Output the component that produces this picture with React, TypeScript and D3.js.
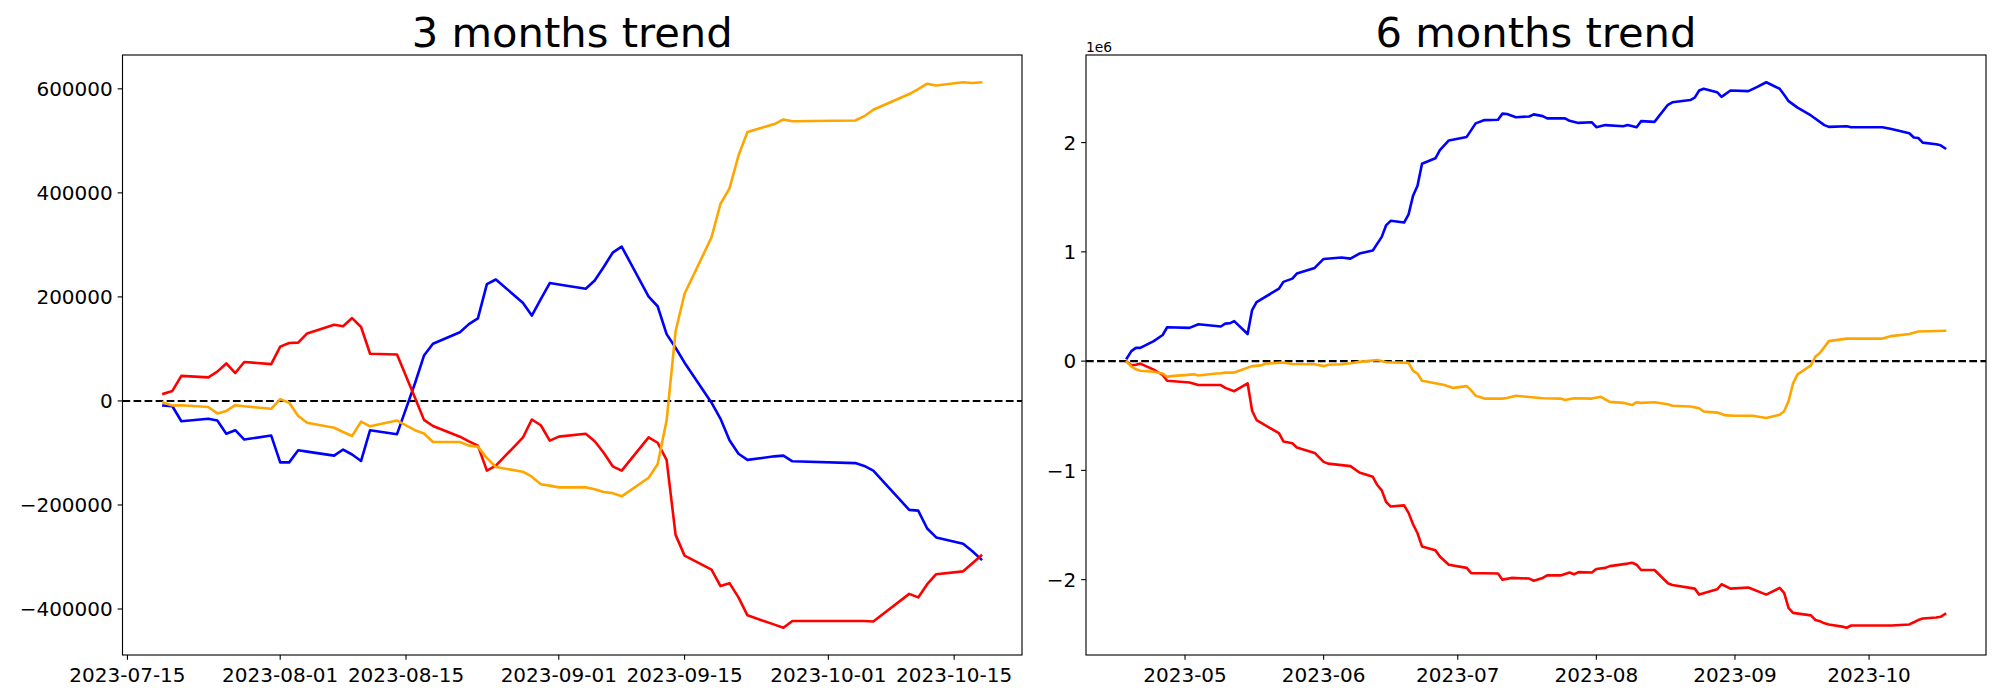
import React, { useRef, useEffect } from 'react';
import * as d3 from 'd3';

// 3 months: trading days and cumulative values per series
const THREE_M_DATES = [
  '2023-07-19', '2023-07-20', '2023-07-21', '2023-07-24', '2023-07-25', '2023-07-26', '2023-07-27', '2023-07-28', '2023-07-31',
  '2023-08-01', '2023-08-02', '2023-08-03', '2023-08-04', '2023-08-07', '2023-08-08', '2023-08-09', '2023-08-10', '2023-08-11',
  '2023-08-14', '2023-08-16', '2023-08-17', '2023-08-18', '2023-08-21', '2023-08-22', '2023-08-23', '2023-08-24', '2023-08-25',
  '2023-08-28', '2023-08-29', '2023-08-30', '2023-08-31',
  '2023-09-01', '2023-09-04', '2023-09-05', '2023-09-06', '2023-09-07', '2023-09-08', '2023-09-11', '2023-09-12', '2023-09-13',
  '2023-09-14', '2023-09-15', '2023-09-18', '2023-09-19', '2023-09-20', '2023-09-21', '2023-09-22', '2023-09-25', '2023-09-26',
  '2023-09-27',
  '2023-10-04', '2023-10-05', '2023-10-06', '2023-10-10', '2023-10-11', '2023-10-12', '2023-10-13', '2023-10-16', '2023-10-17',
  '2023-10-18',
];

const THREE_M_BLUE = [
  -8900, -10300, -39100, -34300, -37800, -63200, -56300, -74200, -66600,
  -118100, -118100, -94800, -97500, -105100, -93400, -103000, -115400, -56300, -63900, 34000, 87200, 109900, 131900, 147700,
  158700, 224600, 233500, 188900, 164100, 195700, 226600,
  223900, 215700, 231500, 257600, 285000, 296700, 200500, 182000, 128400, 102300, 73500, -3400, -34300, -75500, -101600,
  -113300, -106500, -105100, -116100,
  -119500, -125000, -133900, -209500, -210800, -245200, -262400, -274700, -288500, -304300,
];

const THREE_M_RED = [
  13700, 19200, 48100, 45300, 56300, 72100, 53600, 74900, 70700,
  104400, 111300, 112000, 129800, 146300, 143500, 159300, 142200, 90700, 89300, 6000, -36400, -48100, -68700, -77600,
  -85900, -133900, -124300, -70700, -35700, -46700, -76200,
  -68700, -63200, -77600, -99600, -125700, -133900, -70100, -80400, -113300, -257500, -297400, -324200, -355800, -350300,
  -377700, -412100, -430000, -436000, -423000,
  -423000, -423000, -424000, -370900, -377700, -352300, -333100, -327600, -312500, -297400,
];

const THREE_M_ORANGE = [
  -3400, -8900, -8200, -11700, -24000, -19200, -8200, -10300, -15100,
  3400, -3400, -28800, -41900, -51500, -59800, -67300, -39800, -48800, -37800, -56300, -62500, -79000, -79000, -85900,
  -87900, -110000, -127100, -136000, -145600, -160000, -162800,
  -166200, -166200, -169600, -175100, -177200, -183400, -147700, -121600, -37800, 133900, 206000, 314600, 379100, 408600,
  471800, 517200, 532300, 541200, 537800,
  539100, 547400, 559700, 590000, 599600, 609900, 606400, 612600, 611300, 612600,
];

// 6 months: [MM-DD of 2023, value in millions]
const SIX_M_BLUE: [string, number][] = [
  ['04-18', 0.026], ['04-19', 0.092], ['04-20', 0.121], ['04-21', 0.121], ['04-24', 0.183], ['04-26', 0.239],
  ['04-27', 0.310], ['05-02', 0.304], ['05-04', 0.337], ['05-09', 0.317], ['05-10', 0.343], ['05-11', 0.346],
  ['05-12', 0.366], ['05-15', 0.248], ['05-16', 0.467], ['05-17', 0.539], ['05-22', 0.663], ['05-23', 0.725],
  ['05-25', 0.755], ['05-26', 0.801], ['05-30', 0.853], ['06-01', 0.935], ['06-05', 0.948], ['06-07', 0.938],
  ['06-09', 0.984], ['06-12', 1.013], ['06-14', 1.137], ['06-15', 1.245], ['06-16', 1.284], ['06-19', 1.268],
  ['06-20', 1.343], ['06-21', 1.513], ['06-22', 1.605], ['06-23', 1.807], ['06-26', 1.856], ['06-27', 1.931],
  ['06-29', 2.020], ['07-03', 2.052], ['07-05', 2.176], ['07-07', 2.206], ['07-10', 2.209], ['07-11', 2.265],
  ['07-12', 2.261], ['07-14', 2.232], ['07-17', 2.239], ['07-18', 2.258], ['07-20', 2.242], ['07-21', 2.222],
  ['07-25', 2.222], ['07-26', 2.199], ['07-28', 2.180], ['07-31', 2.186], ['08-01', 2.141], ['08-03', 2.160],
  ['08-07', 2.150], ['08-08', 2.160], ['08-10', 2.141], ['08-11', 2.196], ['08-14', 2.190], ['08-17', 2.346],
  ['08-18', 2.369], ['08-22', 2.389], ['08-23', 2.412], ['08-24', 2.477], ['08-25', 2.493], ['08-28', 2.461],
  ['08-29', 2.418], ['08-31', 2.477], ['09-04', 2.471], ['09-06', 2.510], ['09-08', 2.552], ['09-11', 2.493],
  ['09-12', 2.438], ['09-13', 2.379], ['09-15', 2.320], ['09-18', 2.248], ['09-21', 2.160], ['09-22', 2.144],
  ['09-26', 2.150], ['09-27', 2.141], ['10-04', 2.141], ['10-06', 2.124], ['10-10', 2.085], ['10-11', 2.046],
  ['10-12', 2.042], ['10-13', 2.000], ['10-16', 1.985], ['10-17', 1.975], ['10-18', 1.948],
];

const SIX_M_RED: [string, number][] = [
  ['04-18', -0.007], ['04-19', -0.039], ['04-20', -0.033], ['04-21', -0.023], ['04-24', -0.078], ['04-26', -0.127],
  ['04-27', -0.180], ['05-02', -0.196], ['05-04', -0.219], ['05-09', -0.219], ['05-10', -0.245], ['05-12', -0.275],
  ['05-15', -0.203], ['05-16', -0.454], ['05-17', -0.539], ['05-22', -0.660], ['05-23', -0.735], ['05-25', -0.752],
  ['05-26', -0.791], ['05-30', -0.840], ['06-01', -0.922], ['06-02', -0.938], ['06-07', -0.961], ['06-09', -1.020],
  ['06-12', -1.059], ['06-13', -1.134], ['06-14', -1.183], ['06-15', -1.291], ['06-16', -1.330], ['06-19', -1.320],
  ['06-20', -1.389], ['06-21', -1.493], ['06-22', -1.575], ['06-23', -1.696], ['06-26', -1.732], ['06-27', -1.788],
  ['06-29', -1.863], ['07-03', -1.892], ['07-04', -1.941], ['07-07', -1.941], ['07-10', -1.944], ['07-11', -2.000],
  ['07-13', -1.984], ['07-17', -1.990], ['07-18', -2.010], ['07-20', -1.984], ['07-21', -1.961], ['07-24', -1.961],
  ['07-26', -1.935], ['07-27', -1.951], ['07-28', -1.931], ['07-31', -1.935], ['08-01', -1.902], ['08-03', -1.892],
  ['08-04', -1.876], ['08-08', -1.853], ['08-09', -1.846], ['08-10', -1.863], ['08-11', -1.912], ['08-14', -1.912],
  ['08-17', -2.033], ['08-18', -2.049], ['08-23', -2.082], ['08-24', -2.137], ['08-28', -2.088], ['08-29', -2.042],
  ['08-31', -2.082], ['09-04', -2.072], ['09-08', -2.137], ['09-11', -2.075], ['09-12', -2.121], ['09-13', -2.261],
  ['09-14', -2.304], ['09-18', -2.327], ['09-19', -2.369], ['09-20', -2.380], ['09-21', -2.400], ['09-22', -2.410],
  ['09-25', -2.430], ['09-26', -2.440], ['09-27', -2.420], ['10-04', -2.420], ['10-05', -2.420], ['10-06', -2.420],
  ['10-10', -2.410], ['10-11', -2.390], ['10-12', -2.370], ['10-13', -2.356], ['10-16', -2.346], ['10-17', -2.340],
  ['10-18', -2.314],
];

const SIX_M_ORANGE: [string, number][] = [
  ['04-18', -0.007], ['04-19', -0.049], ['04-20', -0.075], ['04-21', -0.088], ['04-24', -0.098], ['04-26', -0.114],
  ['04-27', -0.144], ['04-28', -0.137], ['05-03', -0.121], ['05-04', -0.131], ['05-08', -0.114], ['05-09', -0.111],
  ['05-10', -0.105], ['05-12', -0.105], ['05-16', -0.046], ['05-18', -0.039], ['05-19', -0.023], ['05-23', -0.013],
  ['05-25', -0.026], ['05-30', -0.029], ['06-01', -0.046], ['06-02', -0.033], ['06-05', -0.029], ['06-07', -0.020],
  ['06-09', -0.007], ['06-13', 0.010], ['06-15', -0.010], ['06-20', -0.016], ['06-21', -0.090], ['06-22', -0.114],
  ['06-23', -0.180], ['06-26', -0.203], ['06-28', -0.219], ['06-30', -0.245], ['07-03', -0.229], ['07-04', -0.268],
  ['07-05', -0.317], ['07-07', -0.343], ['07-11', -0.343], ['07-12', -0.337], ['07-14', -0.317], ['07-20', -0.340],
  ['07-24', -0.343], ['07-25', -0.356], ['07-27', -0.340], ['07-31', -0.343], ['08-02', -0.327], ['08-04', -0.373],
  ['08-07', -0.382], ['08-09', -0.402], ['08-10', -0.376], ['08-11', -0.382], ['08-14', -0.376], ['08-17', -0.395],
  ['08-18', -0.408], ['08-22', -0.415], ['08-24', -0.431], ['08-25', -0.461], ['08-28', -0.471], ['08-30', -0.497],
  ['09-01', -0.500], ['09-05', -0.500], ['09-08', -0.520], ['09-11', -0.490], ['09-12', -0.458], ['09-13', -0.366],
  ['09-14', -0.203], ['09-15', -0.121], ['09-18', -0.039], ['09-19', 0.042], ['09-20', 0.075], ['09-22', 0.183],
  ['09-26', 0.206], ['10-04', 0.206], ['10-06', 0.229], ['10-10', 0.248], ['10-12', 0.271], ['10-18', 0.278],
];

const THREE_M_XTICKS = ['2023-07-15', '2023-08-01', '2023-08-15', '2023-09-01', '2023-09-15', '2023-10-01', '2023-10-15'];
const THREE_M_YTICKS = [-400000, -200000, 0, 200000, 400000, 600000];
const SIX_M_XTICKS = ['2023-05-01', '2023-06-01', '2023-07-01', '2023-08-01', '2023-09-01', '2023-10-01'];
const SIX_M_YTICKS = [-2, -1, 0, 1, 2];

const TITLES = ['3 months trend', '6 months trend'];
const COLORS = { blue: '#0000ff', red: '#ff0000', orange: '#ffa500' };

const W = 2000;
const H = 700;
const FONT = 'DejaVu Sans';
const parseDate = d3.timeParse('%Y-%m-%d');

type Pt = [Date, number];
interface Panel {
  title: string;
  x0: number;
  x1: number;
  series: { color: string; pts: Pt[] }[];
  xTicks: Date[];
  xFormat: (d: Date) => string;
  yTicks: number[];
  offsetText: string | null;
}

const threeM = (vals: number[]): Pt[] => THREE_M_DATES.map((d, i) => [parseDate(d)!, vals[i]]);
const sixM = (rows: [string, number][]): Pt[] => rows.map(([d, v]) => [parseDate('2023-' + d)!, v]);

const PANELS: Panel[] = [
  {
    title: TITLES[0],
    x0: 122.5,
    x1: 1022,
    series: [
      { color: COLORS.blue, pts: threeM(THREE_M_BLUE) },
      { color: COLORS.red, pts: threeM(THREE_M_RED) },
      { color: COLORS.orange, pts: threeM(THREE_M_ORANGE) },
    ],
    xTicks: THREE_M_XTICKS.map((d) => parseDate(d)!),
    xFormat: d3.timeFormat('%Y-%m-%d'),
    yTicks: THREE_M_YTICKS,
    offsetText: null,
  },
  {
    title: TITLES[1],
    x0: 1086,
    x1: 1986,
    series: [
      { color: COLORS.blue, pts: sixM(SIX_M_BLUE) },
      { color: COLORS.red, pts: sixM(SIX_M_RED) },
      { color: COLORS.orange, pts: sixM(SIX_M_ORANGE) },
    ],
    xTicks: SIX_M_XTICKS.map((d) => parseDate(d)!),
    xFormat: d3.timeFormat('%Y-%m'),
    yTicks: SIX_M_YTICKS,
    offsetText: '1e6',
  },
];

const TOP = 55;
const BOTTOM = 655;
const PT = 100 / 72;
const LINE_W = 2.6;

function drawPanel(svg: d3.Selection<SVGSVGElement, unknown, null, undefined>, p: Panel) {
  const all = p.series.flatMap((s) => s.pts);
  const [tMin, tMax] = d3.extent(all, (d) => +d[0]) as [number, number];
  const [vMin, vMax] = d3.extent(all, (d) => d[1]) as [number, number];
  // matplotlib style 5% margins
  const tPad = (tMax - tMin) * 0.05;
  const vPad = (vMax - vMin) * 0.05;

  const x = d3.scaleTime().domain([new Date(tMin - tPad), new Date(tMax + tPad)]).range([p.x0, p.x1]);
  const y = d3.scaleLinear().domain([vMin - vPad, vMax + vPad]).range([BOTTOM, TOP]);

  const g = svg.append('g');

  // zero line
  g.append('line')
    .attr('x1', p.x0).attr('x2', p.x1)
    .attr('y1', y(0)).attr('y2', y(0))
    .attr('stroke', '#000')
    .attr('stroke-width', 1.5 * PT)
    .attr('stroke-dasharray', `${3.7 * 1.5 * PT},${1.6 * 1.5 * PT}`);

  const line = d3.line<Pt>().x((d) => x(d[0])).y((d) => y(d[1]));
  p.series.forEach((s) => {
    g.append('path')
      .attr('d', line(s.pts))
      .attr('fill', 'none')
      .attr('stroke', s.color)
      .attr('stroke-width', LINE_W)
      .attr('stroke-linejoin', 'round')
      .attr('stroke-linecap', 'square');
  });

  // spines
  g.append('rect')
    .attr('x', p.x0).attr('y', TOP)
    .attr('width', p.x1 - p.x0).attr('height', BOTTOM - TOP)
    .attr('fill', 'none').attr('stroke', '#000').attr('stroke-width', 0.8 * PT);

  const tickLen = 3.5 * PT;
  const fmtY = d3.format('d');

  p.yTicks.forEach((v) => {
    const yy = y(v);
    g.append('line').attr('x1', p.x0 - tickLen).attr('x2', p.x0).attr('y1', yy).attr('y2', yy)
      .attr('stroke', '#000').attr('stroke-width', 0.8 * PT);
    g.append('text').attr('x', p.x0 - tickLen - 3.5 * PT).attr('y', yy).attr('dy', '0.36em')
      .attr('text-anchor', 'end').attr('font-family', FONT).attr('font-size', 20)
      .text(fmtY(v));
  });

  p.xTicks.forEach((t) => {
    const xx = x(t);
    g.append('line').attr('x1', xx).attr('x2', xx).attr('y1', BOTTOM).attr('y2', BOTTOM + tickLen)
      .attr('stroke', '#000').attr('stroke-width', 0.8 * PT);
    g.append('text').attr('x', xx).attr('y', BOTTOM + 2 * tickLen + 17)
      .attr('text-anchor', 'middle').attr('font-family', FONT).attr('font-size', 20)
      .text(p.xFormat(t));
  });

  if (p.offsetText) {
    g.append('text').attr('x', p.x0).attr('y', TOP - 3.5)
      .attr('font-family', FONT).attr('font-size', 10 * PT)
      .text(p.offsetText);
  }

  g.append('text')
    .attr('x', (p.x0 + p.x1) / 2).attr('y', TOP - 6 * PT)
    .attr('text-anchor', 'middle').attr('font-family', FONT).attr('font-size', 30 * PT)
    .text(p.title);
}

export default function App() {
  const svgRef = useRef<SVGSVGElement | null>(null);

  useEffect(() => {
    const svg = d3.select(svgRef.current!);
    svg.selectAll('*').remove();
    svg.append('rect').attr('width', W).attr('height', H).attr('fill', '#fff');
    PANELS.forEach((p) => drawPanel(svg, p));
  }, []);

  return (
    <svg
      ref={svgRef}
      width={W}
      height={H}
      viewBox={`0 0 ${W} ${H}`}
      style={{ position: 'absolute', left: 0, top: 0, background: '#fff' }}
    />
  );
}
